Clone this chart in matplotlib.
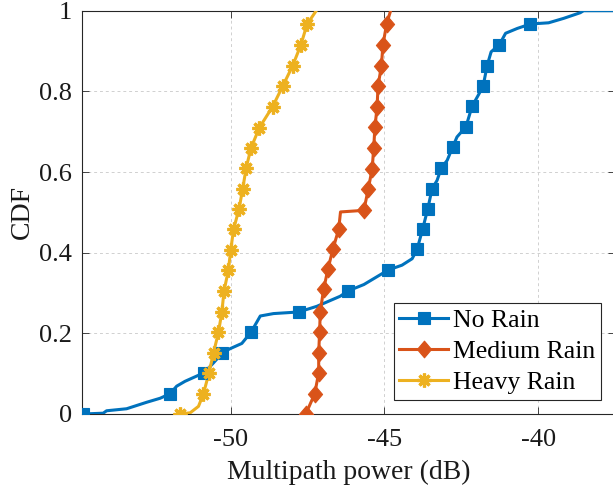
import matplotlib.pyplot as plt
from matplotlib.path import Path

plt.rcParams['font.family'] = ['Liberation Serif', 'DejaVu Serif']
plt.rcParams['axes.unicode_minus'] = False

# No Rain: curve points and marker points (dB, CDF)
no_rain_x = [-54.82, -54.15, -54.04, -53.39, -52.74, -52.30, -51.98, -51.76, -51.49, -51.11,
             -50.87, -50.56, -50.27, -50.02, -49.64, -49.34, -49.04, -48.61, -47.79, -47.20,
             -46.44, -46.19, -45.67, -44.88, -44.43, -44.10, -43.94, -43.76, -43.59, -43.45,
             -43.29, -43.15, -42.96, -42.78, -42.64, -42.35, -42.15, -41.93, -41.79, -41.66,
             -41.53, -41.26, -41.06, -40.68, -40.25, -39.66, -39.17, -38.63, -38.52, -37.5]
no_rain_y = [0.0, 0.002, 0.008, 0.013, 0.029, 0.039, 0.050, 0.069, 0.081, 0.094,
             0.102, 0.127, 0.152, 0.162, 0.175, 0.203, 0.243, 0.249, 0.253, 0.267,
             0.292, 0.305, 0.321, 0.357, 0.369, 0.385, 0.408, 0.458, 0.509, 0.559,
             0.579, 0.610, 0.629, 0.662, 0.687, 0.712, 0.763, 0.793, 0.813, 0.864,
             0.898, 0.916, 0.944, 0.956, 0.967, 0.970, 0.981, 0.995, 1.0, 1.0]
no_rain_mx = [-54.82, -51.98, -50.87, -50.27, -49.34, -47.79, -46.19, -44.88, -43.94, -43.76,
              -43.59, -43.45, -43.15, -42.78, -42.35, -42.15, -41.79, -41.66, -41.26, -40.25]
no_rain_my = [0.0, 0.050, 0.102, 0.152, 0.203, 0.253, 0.305, 0.357, 0.408, 0.458,
              0.509, 0.559, 0.610, 0.662, 0.712, 0.763, 0.813, 0.864, 0.916, 0.967]

# Medium Rain
medium_mx = [-47.56, -47.27, -47.14, -47.14, -47.11, -47.09, -46.98, -46.84, -46.68, -46.49,
             -45.67, -45.53, -45.40, -45.35, -45.31, -45.24, -45.21, -45.10, -45.05, -44.93]
medium_my = [0.0, 0.050, 0.102, 0.152, 0.203, 0.253, 0.309, 0.359, 0.408, 0.458,
             0.505, 0.557, 0.608, 0.660, 0.712, 0.761, 0.813, 0.863, 0.915, 0.967]
medium_x = medium_mx[:10] + [-46.43] + medium_mx[10:] + [-44.80]
medium_y = medium_my[:10] + [0.501] + medium_my[10:] + [1.0]

# Heavy Rain
heavy_mx = [-51.65, -50.89, -50.71, -50.56, -50.40, -50.29, -50.22, -50.08, -50.00, -49.91,
            -49.73, -49.61, -49.50, -49.34, -49.07, -48.64, -48.31, -47.99, -47.72, -47.52]
heavy_my = [0.0, 0.050, 0.102, 0.152, 0.203, 0.253, 0.305, 0.356, 0.407, 0.458,
            0.509, 0.559, 0.610, 0.660, 0.710, 0.762, 0.813, 0.863, 0.915, 0.966]
heavy_x = heavy_mx[:1] + [-51.32, -51.05] + heavy_mx[1:] + [-47.22]
heavy_y = heavy_my[:1] + [0.003, 0.019] + heavy_my[1:] + [1.0]

labels = ['No Rain', 'Medium Rain', 'Heavy Rain']
colors = ['#0072BD', '#D95319', '#EDB120']

diamond = Path([(0, 1), (0.85, 0), (0, -1), (-0.85, 0), (0, 1)],
               [Path.MOVETO, Path.LINETO, Path.LINETO, Path.LINETO, Path.CLOSEPOLY])

fig = plt.figure(figsize=(6.13, 4.88), dpi=100)
ax = fig.add_axes([81.7 / 613, 74 / 488, (615 - 81.7) / 613, 403.3 / 488])

series = [
    (no_rain_x, no_rain_y, no_rain_mx, no_rain_my, dict(marker='s', markersize=9, markeredgewidth=0.8)),
    (medium_x, medium_y, medium_mx, medium_my, dict(marker=diamond, markersize=12, markeredgewidth=0.8)),
    (heavy_x, heavy_y, heavy_mx, heavy_my, dict(marker=(8, 2, 0), markersize=10, markeredgewidth=2.3)),
]
handles = []
for (lx, ly, mx, my, mk), lab, c in zip(series, labels, colors):
    ln, = ax.plot(lx, ly, color=c, lw=2.2, zorder=3)
    pts, = ax.plot(mx, my, ls='none', color=c, markerfacecolor=c, markeredgecolor=c, zorder=4, **mk)
    handles.append((ln, pts))

ax.set_xlim(-54.85, -37.5)
ax.set_ylim(0, 1)
ax.set_xticks([-50, -45, -40])
ax.set_yticks([0, 0.2, 0.4, 0.6, 0.8, 1])
ax.set_yticklabels(['0', '0.2', '0.4', '0.6', '0.8', '1'])
ax.grid(True, ls='--', color='#d0d0d0', lw=0.7, dashes=(3, 3))
ax.set_axisbelow(True)
ax.tick_params(direction='in', top=True, right=True, labelsize=19, colors='#262626', length=5, width=0.6)
ax.tick_params(axis='x', pad=11, labelcolor='#1a1a1a')
ax.tick_params(axis='y', pad=7, labelcolor='#1a1a1a')
for s in ax.spines.values():
    s.set_color('#262626')
    s.set_linewidth(0.8)

ax.set_xlabel('Multipath power (dB)', fontsize=20, labelpad=6, color='#1a1a1a')
ax.set_ylabel('CDF', fontsize=20, labelpad=3, color='#1a1a1a')

leg = ax.legend(handles, labels, loc='lower right', bbox_to_anchor=(0.9738, 0.0347),
                borderaxespad=0, fontsize=18.5, fancybox=False, framealpha=1,
                edgecolor='#262626', handlelength=1.9, labelspacing=0.32,
                handletextpad=0.2, borderpad=0.22)
leg.get_frame().set_linewidth(0.8)

fig.savefig('out.png', dpi=100)
